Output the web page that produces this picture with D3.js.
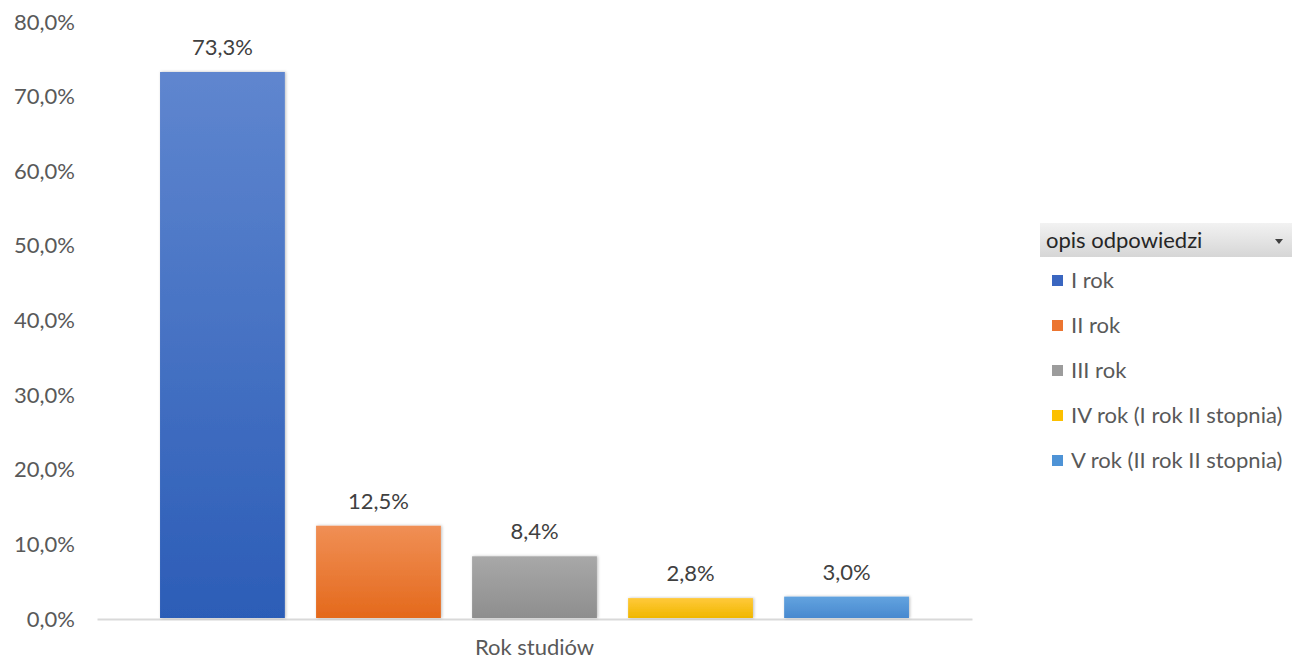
<!DOCTYPE html>
<html><head><meta charset="utf-8">
<script src="https://cdn.jsdelivr.net/npm/d3@7"></script>
<style>
html,body{margin:0;padding:0;background:#fff;}
svg{display:block;font-family:Lato,sans-serif;}
</style></head>
<body><svg id="c" width="1292" height="660"></svg>
<script>
const categories = ["Rok studiów"];
const seriesNames = ["I rok","II rok","III rok","IV rok (I rok II stopnia)","V rok (II rok II stopnia)"];
const seriesValues = [73.3, 12.5, 8.4, 2.8, 3.0];
const tickValues = [0,10,20,30,40,50,60,70,80];
const legendTitle = "opis odpowiedzi";
const colorsTop = ["#5f86cf","#f08f55","#a8a8a8","#ffc93a","#62a3df"];
const colorsBottom = ["#2c5db7","#e4691c","#8e8e8e","#f0b700","#4989cf"];
const legendColors = ["#3a66c0","#ec7530","#9c9c9c","#fcc000","#4e93d6"];

const FONT = "Lato,sans-serif";
const FS = 22;
const svg = d3.select("#c");
const fmt = v => d3.format(".1f")(v).replace(".", ",") + "%";

const y = d3.scaleLinear().domain([0,80]).range([619,22]);
const x0 = d3.scaleBand().domain(categories).range([97,972]).padding(0);
const x1 = d3.scaleBand().domain(seriesNames).range([0, x0.bandwidth()]).paddingInner(0.2).paddingOuter(0.404);

const defs = svg.append("defs");
seriesNames.forEach((s,i)=>{
  const g = defs.append("linearGradient").attr("id","g"+i).attr("x1",0).attr("x2",0).attr("y1",0).attr("y2",1);
  g.append("stop").attr("offset","0%").attr("stop-color",colorsTop[i]);
  g.append("stop").attr("offset","100%").attr("stop-color",colorsBottom[i]);
});
const f = defs.append("filter").attr("id","sh").attr("x","-10%").attr("y","-10%").attr("width","120%").attr("height","120%");
f.append("feDropShadow").attr("dx",1).attr("dy",0).attr("stdDeviation",1.5).attr("flood-color","#000").attr("flood-opacity",0.25);

// y axis labels
const yAxis = d3.axisLeft(y).tickValues(tickValues).tickFormat(d=>d3.format(".1f")(d).replace(".",",")+"%").tickSize(0).tickPadding(0);
const ya = svg.append("g").attr("transform","translate(75,0)").call(yAxis);
ya.select(".domain").remove();
ya.selectAll("text").attr("font-size",FS).attr("fill","#595959").attr("font-family",FONT);

// baseline
const xAxis = d3.axisBottom(x0).tickSize(0).tickPadding(20);
const xa = svg.append("g").attr("transform","translate(0,619)").call(xAxis);
xa.select(".domain").attr("stroke","#d9d9d9").attr("stroke-width",2);
xa.selectAll("text").attr("font-size",FS).attr("fill","#595959").attr("font-family",FONT);

// bars
const grp = svg.append("g").attr("transform",`translate(${x0(categories[0])},0)`);
grp.selectAll("rect").data(seriesValues).join("rect")
  .attr("x",(d,i)=>x1(seriesNames[i]))
  .attr("width",x1.bandwidth())
  .attr("y",d=>y(d))
  .attr("height",d=>y(0)-y(d)-1)
  .attr("fill",(d,i)=>`url(#g${i})`)
  .attr("filter","url(#sh)");
grp.selectAll("text.lbl").data(seriesValues).join("text").attr("class","lbl")
  .attr("x",(d,i)=>x1(seriesNames[i])+x1.bandwidth()/2)
  .attr("y",d=>y(d)-17)
  .attr("text-anchor","middle")
  .attr("font-size",FS).attr("fill","#404040")
  .text(fmt);

// legend
const lg = svg.append("g");
const hg = defs.append("linearGradient").attr("id","hg").attr("x1",0).attr("x2",0).attr("y1",0).attr("y2",1);
hg.append("stop").attr("offset","0%").attr("stop-color","#f2f2f2");
hg.append("stop").attr("offset","100%").attr("stop-color","#d6d6d6");
lg.append("rect").attr("x",1040).attr("y",223).attr("width",252).attr("height",34).attr("fill","url(#hg)");
lg.append("text").attr("x",1046).attr("y",248).attr("font-size",FS).attr("fill","#262626").text(legendTitle);
lg.append("path").attr("d","M1275,239 L1283,239 L1279,244 Z").attr("fill","#404040");
const ly = d3.scalePoint().domain(seriesNames).range([280,460]);
seriesNames.forEach((s,i)=>{
  lg.append("rect").attr("x",1052).attr("y",ly(s)-5).attr("width",11).attr("height",11).attr("fill",legendColors[i]);
  lg.append("text").attr("x",1071).attr("y",ly(s)+8).attr("font-size",FS).attr("fill","#595959").text(s);
});
</script></body></html>
